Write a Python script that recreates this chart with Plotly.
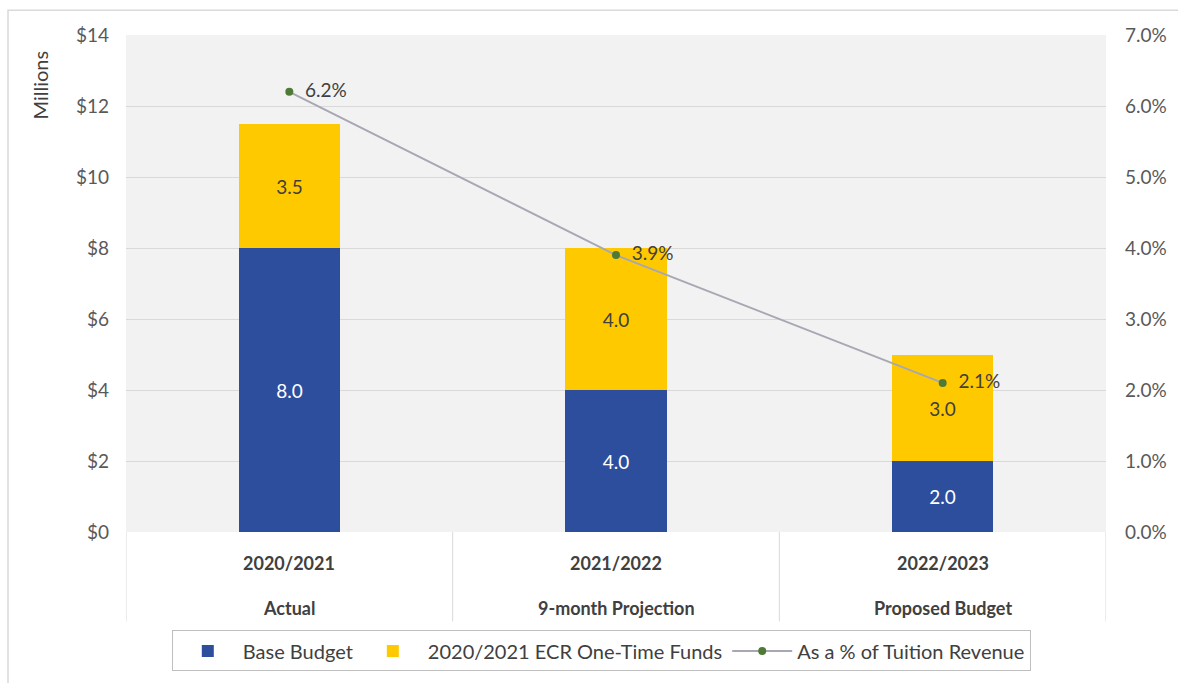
import plotly.graph_objects as go

# Budget data (millions) and share of tuition revenue
years = ["2020/2021", "2021/2022", "2022/2023"]
stages = ["Actual", "9-month Projection", "Proposed Budget"]
base_budget = [8.0, 4.0, 2.0]
ecr_funds = [3.5, 4.0, 3.0]
pct_tuition = [6.2, 3.9, 2.1]

left_ticks = [0, 2, 4, 6, 8, 10, 12, 14]
left_tick_text = ["$" + str(v) for v in left_ticks]
right_ticks = [0, 1, 2, 3, 4, 5, 6, 7]
right_tick_text = [f"{v:.1f}%" for v in right_ticks]

FONT = "Lato, 'Open Sans', sans-serif"
TXT = "#404040"
TICK = "#595959"
BLUE = "#2c4e9c"
YELLOW = "#ffc900"

x = list(range(len(years)))

fig = go.Figure()
fig.add_trace(go.Bar(
    x=x, y=base_budget, name="Base Budget", marker_color=BLUE,
    width=0.31, text=[f"{v:.1f}" for v in base_budget],
    textposition="inside", insidetextanchor="middle",
    textfont=dict(color="white", size=19, family=FONT),
    marker_line_width=0,
))
fig.add_trace(go.Bar(
    x=x, y=ecr_funds, name="2020/2021 ECR One-Time Funds", marker_color=YELLOW,
    width=0.31, text=[f"{v:.1f}" for v in ecr_funds],
    textposition="inside", insidetextanchor="middle",
    textfont=dict(color=TXT, size=19, family=FONT),
    marker_line_width=0,
))
fig.add_trace(go.Scatter(
    x=x, y=pct_tuition, name="As a % of Tuition Revenue", yaxis="y2",
    mode="lines+markers+text",
    line=dict(color="#a7a8b3", width=2),
    marker=dict(color="#4e7a36", size=8),
    text=[f"  {v:.1f}%" for v in pct_tuition], textposition="middle right",
    textfont=dict(color=TXT, size=19, family=FONT),
))

shapes = []
# category dividers under the plot
for b in [-0.5, 0.5, 1.5, 2.5]:
    shapes.append(dict(type="line", xref="x", yref="paper", x0=b, x1=b, y0=0, y1=-0.18,
                       line=dict(color="#d9d9d9", width=1)))
# outer frame
shapes.append(dict(type="rect", xref="paper", yref="paper", x0=-0.1204, x1=1.2, y0=-0.4, y1=1.05,
                   line=dict(color="#d9d9d9", width=1.5), layer="below"))

annotations = []
for i, (yr, st) in enumerate(zip(years, stages)):
    annotations.append(dict(x=i, y=-0.062, xref="x", yref="paper", text=f"<b>{yr}</b>",
                            xanchor="center", yanchor="middle",
                            showarrow=False, font=dict(size=18, color=TXT, family=FONT)))
    annotations.append(dict(x=i, y=-0.152, xref="x", yref="paper", text=f"<b>{st}</b>",
                            xanchor="center", yanchor="middle",
                            showarrow=False, font=dict(size=18, color=TXT, family=FONT)))
annotations.append(dict(x=-0.088, y=0.9, xref="paper", yref="paper", text="Millions",
                        xanchor="center", yanchor="middle",
                        textangle=-90, showarrow=False, font=dict(size=20, color=TXT, family=FONT)))

fig.update_layout(
    width=1178, height=683,
    margin=dict(l=126, r=72, t=35, b=148),
    paper_bgcolor="white", plot_bgcolor="#f2f2f2",
    barmode="stack", bargap=0,
    font=dict(family=FONT, color=TICK, size=18),
    showlegend=True,
    legend=dict(orientation="h", x=0.485, xanchor="center", y=-0.198, yanchor="top",
                bordercolor="#bfbfbf", borderwidth=1, bgcolor="white",
                font=dict(size=20, color=TXT, family=FONT), traceorder="normal",
                itemwidth=60),
    xaxis=dict(range=[-0.5, 2.5], tickvals=x, showticklabels=False, showgrid=False,
               zeroline=False, showline=False, fixedrange=True),
    yaxis=dict(range=[0, 14], tickvals=left_ticks, ticktext=left_tick_text,
               showgrid=True, gridcolor="#d9d9d9", gridwidth=1, zeroline=False,
               ticks="", ticklabelstandoff=16, tickfont=dict(size=19, color=TICK)),
    yaxis2=dict(range=[0, 7], tickvals=right_ticks, ticktext=right_tick_text,
                overlaying="y", side="right", showgrid=False, zeroline=False,
                ticks="", ticklabelstandoff=18, tickfont=dict(size=19, color=TICK)),
    shapes=shapes, annotations=annotations,
)

fig.write_html("out.html")
